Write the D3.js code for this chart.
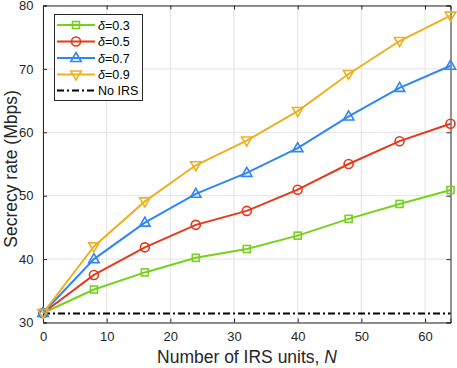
<!DOCTYPE html>
<html><head><meta charset="utf-8">
<script src="https://cdn.jsdelivr.net/npm/d3@7/dist/d3.min.js"></script>
<style>body{margin:0;background:#fff;} svg{display:block;font-family:"Liberation Sans",Arial,sans-serif;}</style>
</head><body>
<script>
const N = [0, 8, 16, 24, 32, 40, 48, 56, 64];
const d03 = [31.5, 35.2, 37.9, 40.2, 41.6, 43.7, 46.35, 48.7, 50.9];
const d05 = [31.5, 37.5, 41.85, 45.4, 47.6, 50.95, 55.0, 58.6, 61.35];
const d07 = [31.5, 40.0, 45.75, 50.3, 53.6, 57.5, 62.5, 67.0, 70.5];
const d09 = [31.5, 42.0, 49.1, 54.8, 58.7, 63.35, 69.2, 74.4, 78.4];
const noIRS = 31.4;
const xTicks = [0, 10, 20, 30, 40, 50, 60];
const yTicks = [30, 40, 50, 60, 70, 80];
const seriesNames = ["δ=0.3", "δ=0.5", "δ=0.7", "δ=0.9"];
const seriesColors = ["#77d11b", "#e5391b", "#2f86f6", "#edb120"];
const seriesMarkers = ["square", "circle", "triUp", "triDown"];
const seriesData = [d03, d05, d07, d09];

const W = 457, H = 368;
const L = 43, R = 450.5, T = 5.5, B = 322.5;
const svg = d3.select("body").append("svg").attr("width", W).attr("height", H);
const x = d3.scaleLinear().domain([0, 64]).range([L, R]);
const y = d3.scaleLinear().domain([30, 80]).range([B, T]);

// grid
const g = svg.append("g");
g.selectAll(".gx").data(xTicks).enter().append("line")
  .attr("x1", d => x(d)).attr("x2", d => x(d)).attr("y1", T).attr("y2", B)
  .attr("stroke", "#e3e3e3").attr("stroke-width", 1);
g.selectAll(".gy").data(yTicks).enter().append("line")
  .attr("y1", d => y(d)).attr("y2", d => y(d)).attr("x1", L).attr("x2", R)
  .attr("stroke", "#e3e3e3").attr("stroke-width", 1);

// axes
const ax = svg.append("g").attr("transform", `translate(0,${B})`)
  .call(d3.axisBottom(x).tickValues(xTicks).tickSize(-4).tickPadding(9.5).tickFormat(d3.format("d")));
const ay = svg.append("g").attr("transform", `translate(${L},0)`)
  .call(d3.axisLeft(y).tickValues(yTicks).tickSize(-4).tickPadding(9.5).tickFormat(d3.format("d")));
const axTop = svg.append("g").attr("transform", `translate(0,${T})`)
  .call(d3.axisTop(x).tickValues(xTicks).tickSize(-4).tickFormat(""));
const ayR = svg.append("g").attr("transform", `translate(${R},0)`)
  .call(d3.axisRight(y).tickValues(yTicks).tickSize(-4).tickFormat(""));
[ax, ay, axTop, ayR].forEach(a => {
  a.select(".domain").attr("stroke", "#262626").attr("stroke-width", 1);
  a.selectAll(".tick line").attr("stroke", "#262626");
  a.selectAll("text").attr("fill", "#262626").style("font-size", "13px").style("font-family", "Liberation Sans, Arial, sans-serif");
});

// No IRS line
svg.append("line").attr("x1", x(0)).attr("x2", x(64)).attr("y1", y(noIRS)).attr("y2", y(noIRS))
  .attr("stroke", "#000").attr("stroke-width", 2).attr("stroke-dasharray", "7,3,2,3");

function marker(sel, type, color) {
  if (type === "square") {
    sel.append("rect").attr("x", -3.5).attr("y", -3.5).attr("width", 7).attr("height", 7);
  } else if (type === "circle") {
    sel.append("circle").attr("r", 4.5);
  } else if (type === "triUp") {
    sel.append("path").attr("d", "M0,-5.5L5.2,3.5L-5.2,3.5Z");
  } else {
    sel.append("path").attr("d", "M0,5.5L5.2,-3.5L-5.2,-3.5Z");
  }
  sel.selectAll("*").attr("fill", "none").attr("stroke", color).attr("stroke-width", 1.6);
}

const line = d3.line().x((d, i) => x(N[i])).y(d => y(d));
seriesData.forEach((vals, k) => {
  svg.append("path").datum(vals).attr("d", line).attr("fill", "none")
    .attr("stroke", seriesColors[k]).attr("stroke-width", 2);
});
seriesData.forEach((vals, k) => {
  vals.forEach((v, i) => {
    const m = svg.append("g").attr("transform", `translate(${x(N[i])},${y(v)})`);
    marker(m, seriesMarkers[k], seriesColors[k]);
  });
});

// legend
const lg = svg.append("g");
lg.append("rect").attr("x", 54.5).attr("y", 14.5).attr("width", 88).attr("height", 86)
  .attr("fill", "#fff").attr("stroke", "#262626").attr("stroke-width", 1);
const ly = [25, 41.5, 58, 74.5, 90.5];
seriesNames.forEach((nm, k) => {
  lg.append("line").attr("x1", 57).attr("x2", 95).attr("y1", ly[k]).attr("y2", ly[k])
    .attr("stroke", seriesColors[k]).attr("stroke-width", 2);
  const m = lg.append("g").attr("transform", `translate(76,${ly[k]})`);
  marker(m, seriesMarkers[k], seriesColors[k]);
  const t = lg.append("text").attr("x", 98).attr("y", ly[k] + 4.5).style("font-size", "12.5px").attr("fill", "#000");
  t.append("tspan").style("font-style", "italic").text(nm.slice(0, 1));
  t.append("tspan").text(nm.slice(1));
});
lg.append("line").attr("x1", 57).attr("x2", 95).attr("y1", ly[4]).attr("y2", ly[4])
  .attr("stroke", "#000").attr("stroke-width", 2).attr("stroke-dasharray", "7,3,2,3");
lg.append("text").attr("x", 98).attr("y", ly[4] + 4.5).style("font-size", "12.5px").attr("fill", "#000").text("No IRS");

// axis labels
const xl = svg.append("text").attr("x", 247).attr("y", 363).attr("text-anchor", "middle")
  .style("font-size", "17.5px").attr("fill", "#262626");
xl.append("tspan").text("Number of IRS units, ");
xl.append("tspan").style("font-style", "italic").text("N");
svg.append("text").attr("transform", `translate(16.5,169) rotate(-90)`).attr("text-anchor", "middle")
  .style("font-size", "17.5px").attr("fill", "#262626").text("Secrecy rate (Mbps)");
</script>
</body></html>
